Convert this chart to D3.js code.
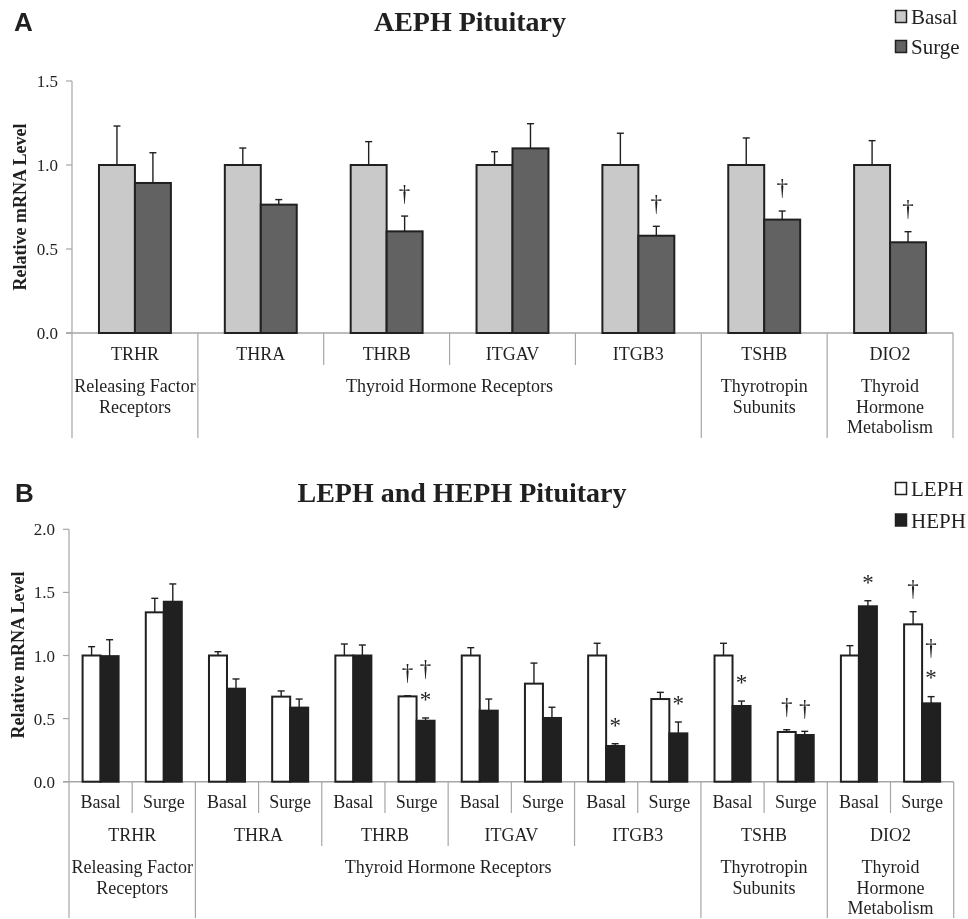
<!DOCTYPE html>
<html>
<head>
<meta charset="utf-8">
<script src="https://cdn.jsdelivr.net/npm/d3@7"></script>
<style>
  html, body { margin: 0; padding: 0; background: #fff; }
  svg { display: block; filter: grayscale(1); }
  text { font-family: "Liberation Serif", "Times New Roman", serif; fill: #231f20; }
</style>
</head>
<body>
<svg id="chart" width="968" height="919"></svg>
<script>
// ---------- DATA ----------
const genes = ["TRHR", "THRA", "THRB", "ITGAV", "ITGB3", "TSHB", "DIO2"];
const groupLabels = [["Releasing Factor", "Receptors"], ["Thyroid Hormone Receptors"], ["Thyrotropin", "Subunits"], ["Thyroid", "Hormone", "Metabolism"]];
const groupSpans = [1, 4, 1, 1];
const yTicksA = [0, 0.5, 1.0, 1.5];
const yTicksB = [0, 0.5, 1.0, 1.5, 2.0];

// Panel A
const seriesA = ["Basal", "Surge"];
const aBasal    = [1.0, 1.0, 1.0, 1.0, 1.0, 1.0, 1.0];
const aBasalErr = [0.232, 0.101, 0.139, 0.079, 0.189, 0.161, 0.145];
const aSurge    = [0.893, 0.764, 0.605, 1.099, 0.579, 0.675, 0.540];
const aSurgeErr = [0.180, 0.030, 0.091, 0.147, 0.056, 0.051, 0.063];
const aBasalMarks = ["", "", "", "", "", "", ""];
const aSurgeMarks = ["", "", "†", "", "†", "†", "†"];

// Panel B
const seriesB = ["LEPH", "HEPH"];
const conditions = ["Basal", "Surge"];
const bLeph    = [1.0, 1.342, 1.0, 0.674, 1.0, 0.676, 1.0, 0.777, 1.0, 0.655, 1.0, 0.394, 1.0, 1.247];
const bLephErr = [0.070, 0.111, 0.030, 0.045, 0.091, 0.005, 0.062, 0.163, 0.097, 0.053, 0.097, 0.018, 0.078, 0.100];
const bHeph    = [0.995, 1.426, 0.737, 0.587, 1.0, 0.483, 0.563, 0.505, 0.283, 0.383, 0.600, 0.370, 1.390, 0.621];
const bHephErr = [0.130, 0.141, 0.077, 0.068, 0.083, 0.022, 0.092, 0.085, 0.018, 0.090, 0.039, 0.029, 0.044, 0.053];
// marks listed from the bar upward
const bLephMarks = ["", "", "", "", "", "†", "", "", "", "", "", "†", "", "†"];
const bHephMarks = ["", "", "", "", "", "*†", "", "", "*", "*", "*", "†", "*", "*†"];

// ---------- DRAW ----------
const svg = d3.select("#chart");
const ink = "#231f20";
const axisGray = "#a6a6a6";

function drawMarks(g, cx, yTop, marks) {
  const chars = Array.from(marks);
  const mg = g.append("g");
  chars.forEach((ch, i) => {
    const center = yTop - 22 - i * 26.5;
    const fs = 23;
    const base = ch === "*" ? center + 0.47 * fs : center + 0.28 * fs;
    mg.append("text").attr("x", cx).attr("y", base)
      .attr("text-anchor", "middle").attr("font-size", fs).text(ch);
  });
}

function errBar(g, cx, yTopBar, yErr) {
  g.append("line").attr("x1", cx).attr("x2", cx).attr("y1", yTopBar).attr("y2", yErr)
    .attr("stroke", ink).attr("stroke-width", 1.4);
  g.append("line").attr("x1", cx - 3.5).attr("x2", cx + 3.5).attr("y1", yErr).attr("y2", yErr)
    .attr("stroke", ink).attr("stroke-width", 1.4);
}

function yAxis(g, y, ticks, x0, top, bottom) {
  g.append("line").attr("x1", x0).attr("x2", x0).attr("y1", y(ticks[ticks.length - 1])).attr("y2", bottom)
    .attr("stroke", axisGray).attr("stroke-width", 1.2);
  ticks.forEach(t => {
    g.append("line").attr("x1", x0 - 6).attr("x2", x0).attr("y1", y(t)).attr("y2", y(t))
      .attr("stroke", axisGray).attr("stroke-width", 1.2);
    g.append("text").attr("x", x0 - 14).attr("y", y(t) + 6).attr("text-anchor", "end")
      .attr("font-size", 17).text(d3.format(".1f")(t));
  });
}

// ===== Panel A =====
(function () {
  const g = svg.append("g");
  const x0 = 72, x1 = 953, zeroY = 333;
  const x = d3.scaleBand().domain(genes).range([x0, x1]);
  const xs = d3.scaleBand().domain(seriesA).range([0, x.bandwidth()]).paddingOuter(0.75);
  const y = d3.scaleLinear().domain([0, 1.5]).range([zeroY, 81]);

  g.append("text").attr("x", 14).attr("y", 31).attr("font-size", 26).attr("font-weight", "bold")
    .style("font-family", "'Liberation Sans', Arial, sans-serif").text("A");
  g.append("text").attr("x", 470).attr("y", 31).attr("text-anchor", "middle")
    .attr("font-size", 28).attr("font-weight", "bold").text("AEPH Pituitary");

  // legend
  const legFill = ["#c8c9cb", "#636265"];
  seriesA.forEach((s, i) => {
    g.append("rect").attr("x", 895.5).attr("y", 10.5 + i * 30).attr("width", 11).attr("height", 12)
      .attr("fill", legFill[i]).attr("stroke", ink).attr("stroke-width", 1.5);
    g.append("text").attr("x", 911).attr("y", 24 + i * 30).attr("font-size", 21).text(s);
  });

  // y axis title
  g.append("text").attr("transform", `translate(26,207) rotate(-90)`).attr("text-anchor", "middle")
    .attr("font-size", 18).attr("font-weight", "bold").text("Relative mRNA Level");

  yAxis(g, y, yTicksA, x0, 81, 438);

  // baseline
  g.append("line").attr("x1", x0 - 6).attr("x2", x1).attr("y1", zeroY).attr("y2", zeroY)
    .attr("stroke", axisGray).attr("stroke-width", 1.4);

  // bars
  const vals = [aBasal, aSurge], errs = [aBasalErr, aSurgeErr], marks = [aBasalMarks, aSurgeMarks];
  genes.forEach((gene, gi) => {
    seriesA.forEach((s, si) => {
      const bx = x(gene) + xs(s);
      const v = vals[si][gi];
      g.append("rect").attr("x", bx).attr("y", y(v)).attr("width", xs.bandwidth()).attr("height", zeroY - y(v))
        .attr("fill", legFill[si]).attr("stroke", ink).attr("stroke-width", 2);
      const cx = bx + xs.bandwidth() / 2;
      const ye = y(v + errs[si][gi]);
      errBar(g, cx, y(v), ye);
      drawMarks(g, cx, ye, marks[si][gi]);
    });
  });

  // category labels & separators
  genes.forEach(gene => {
    g.append("text").attr("x", x(gene) + x.bandwidth() / 2).attr("y", 360).attr("text-anchor", "middle")
      .attr("font-size", 18).text(gene);
  });
  let idx = 0;
  const groupEdges = new Set();
  groupSpans.forEach(sp => { idx += sp; groupEdges.add(idx); });
  genes.forEach((gene, i) => {
    const ex = i + 1 < genes.length ? x(genes[i + 1]) : x1;
    const isGroup = groupEdges.has(i + 1);
    g.append("line").attr("x1", ex).attr("x2", ex).attr("y1", zeroY).attr("y2", isGroup ? 438 : 365)
      .attr("stroke", axisGray).attr("stroke-width", 1.2);
  });
  // group labels
  let start = 0;
  groupSpans.forEach((sp, gi) => {
    const gx0 = x(genes[start]);
    const gx1 = start + sp < genes.length ? x(genes[start + sp]) : x1;
    const cx = (gx0 + gx1) / 2;
    groupLabels[gi].forEach((ln, li) => {
      g.append("text").attr("x", cx).attr("y", 392 + li * 20.7).attr("text-anchor", "middle")
        .attr("font-size", 18).text(ln);
    });
    start += sp;
  });
})();

// ===== Panel B =====
(function () {
  const g = svg.append("g");
  const x0 = 69, x1 = 953.7, zeroY = 781.7;
  const keys = [];
  genes.forEach(gn => conditions.forEach(c => keys.push(gn + "|" + c)));
  const x = d3.scaleBand().domain(keys).range([x0, x1]);
  const xs = d3.scaleBand().domain(seriesB).range([0, x.bandwidth()]).paddingOuter(0.755);
  const y = d3.scaleLinear().domain([0, 2.0]).range([zeroY, 529.3]);

  g.append("text").attr("x", 15).attr("y", 502).attr("font-size", 26).attr("font-weight", "bold")
    .style("font-family", "'Liberation Sans', Arial, sans-serif").text("B");
  g.append("text").attr("x", 462).attr("y", 502).attr("text-anchor", "middle")
    .attr("font-size", 28).attr("font-weight", "bold").text("LEPH and HEPH Pituitary");

  const fills = ["#ffffff", "#231f20"];
  seriesB.forEach((s, i) => {
    g.append("rect").attr("x", 895.5).attr("y", 482.5 + i * 31.5).attr("width", 11).attr("height", 12)
      .attr("fill", fills[i]).attr("stroke", ink).attr("stroke-width", 1.5);
    g.append("text").attr("x", 911).attr("y", 496 + i * 31.5).attr("font-size", 21).text(s);
  });

  g.append("text").attr("transform", `translate(24,655) rotate(-90)`).attr("text-anchor", "middle")
    .attr("font-size", 18).attr("font-weight", "bold").text("Relative mRNA Level");

  yAxis(g, y, yTicksB, x0, 529.3, 918);

  g.append("line").attr("x1", x0 - 6).attr("x2", x1).attr("y1", zeroY).attr("y2", zeroY)
    .attr("stroke", axisGray).attr("stroke-width", 1.4);

  const vals = [bLeph, bHeph], errs = [bLephErr, bHephErr], marks = [bLephMarks, bHephMarks];
  keys.forEach((k, ki) => {
    seriesB.forEach((s, si) => {
      const bx = x(k) + xs(s);
      const v = vals[si][ki];
      g.append("rect").attr("x", bx).attr("y", y(v)).attr("width", xs.bandwidth()).attr("height", zeroY - y(v))
        .attr("fill", fills[si]).attr("stroke", ink).attr("stroke-width", 2);
      const cx = bx + xs.bandwidth() / 2;
      const ye = y(v + errs[si][ki]);
      errBar(g, cx, y(v), ye);
      drawMarks(g, cx, ye, marks[si][ki]);
    });
  });

  // condition labels
  keys.forEach(k => {
    g.append("text").attr("x", x(k) + x.bandwidth() / 2).attr("y", 808).attr("text-anchor", "middle")
      .attr("font-size", 18).text(k.split("|")[1]);
  });
  // gene labels
  genes.forEach(gn => {
    const gx = x(gn + "|Basal");
    g.append("text").attr("x", gx + x.bandwidth()).attr("y", 841).attr("text-anchor", "middle")
      .attr("font-size", 18).text(gn);
  });
  // separators
  let idx = 0;
  const groupEdges = new Set();
  groupSpans.forEach(sp => { idx += sp; groupEdges.add(idx * 2); });
  keys.forEach((k, i) => {
    const ex = i + 1 < keys.length ? x(keys[i + 1]) : x1;
    let y2 = 813;
    if ((i + 1) % 2 === 0) y2 = 846;
    if (groupEdges.has(i + 1)) y2 = 918;
    g.append("line").attr("x1", ex).attr("x2", ex).attr("y1", zeroY).attr("y2", y2)
      .attr("stroke", axisGray).attr("stroke-width", 1.2);
  });
  // group labels
  let start = 0;
  groupSpans.forEach((sp, gi) => {
    const gx0 = x(genes[start] + "|Basal");
    const gx1 = start + sp < genes.length ? x(genes[start + sp] + "|Basal") : x1;
    const cx = (gx0 + gx1) / 2;
    groupLabels[gi].forEach((ln, li) => {
      g.append("text").attr("x", cx).attr("y", 873 + li * 20.7).attr("text-anchor", "middle")
        .attr("font-size", 18).text(ln);
    });
    start += sp;
  });
})();
</script>
</body>
</html>
